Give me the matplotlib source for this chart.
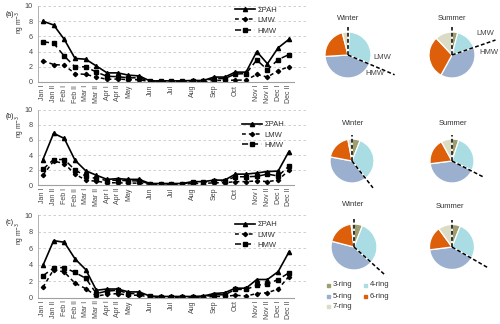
import matplotlib
matplotlib.use("Agg")
import matplotlib.pyplot as plt
import numpy as np

plt.rcParams['font.family'] = ['Liberation Sans', 'DejaVu Sans']

# ---------------- data ----------------
tick_labels = ["Jan I", "Jan II", "Feb I", "Feb II", "Mar I", "Mar II", "Apr I", "Apr II",
               "May", "", "Jun", "", "Jul", "", "Aug", "", "Sep", "", "Oct", "",
               "Nov I", "Nov II", "Dec I", "Dec II"]

sum_a = [8.0, 7.5, 5.6, 3.1, 3.0, 2.1, 1.2, 1.2, 0.9, 0.8, 0.15, 0.15, 0.15, 0.15, 0.2, 0.2,
         0.65, 0.65, 1.3, 1.3, 4.0, 2.4, 4.5, 5.6]
hmw_a = [5.3, 5.1, 3.4, 2.0, 2.0, 1.3, 0.75, 0.7, 0.55, 0.55, 0.1, 0.1, 0.1, 0.1, 0.15, 0.15,
         0.45, 0.45, 1.05, 1.1, 2.9, 1.6, 2.95, 3.6]
lmw_a = [2.8, 2.3, 2.2, 1.1, 1.0, 0.65, 0.35, 0.4, 0.3, 0.3, 0.05, 0.05, 0.05, 0.05, 0.05, 0.05,
         0.2, 0.2, 0.25, 0.25, 1.0, 0.65, 1.5, 2.0]

sum_b = [3.4, 6.9, 6.2, 3.3, 1.9, 1.3, 0.75, 0.85, 0.75, 0.75, 0.2, 0.2, 0.2, 0.2, 0.45, 0.45,
         0.65, 0.65, 1.45, 1.45, 1.6, 1.8, 1.85, 4.45]
hmw_b = [2.1, 3.4, 3.4, 2.0, 1.2, 0.85, 0.6, 0.65, 0.55, 0.55, 0.15, 0.15, 0.15, 0.15, 0.35, 0.35,
         0.55, 0.55, 1.1, 1.1, 1.15, 1.45, 1.2, 2.5]
lmw_b = [1.3, 3.2, 2.85, 1.45, 0.65, 0.5, 0.3, 0.3, 0.25, 0.25, 0.1, 0.1, 0.1, 0.1, 0.2, 0.2,
         0.3, 0.3, 0.45, 0.45, 0.55, 0.45, 0.65, 1.95]

sum_c = [3.9, 6.9, 6.7, 4.7, 3.4, 0.9, 1.05, 1.05, 0.7, 0.7, 0.2, 0.15, 0.15, 0.15, 0.15, 0.2,
         0.5, 0.6, 1.15, 1.15, 2.2, 2.2, 3.15, 5.5]
hmw_c = [2.65, 3.6, 3.65, 3.05, 2.35, 0.5, 0.8, 0.9, 0.5, 0.5, 0.15, 0.1, 0.1, 0.1, 0.1, 0.1,
         0.35, 0.35, 1.0, 1.0, 1.5, 1.65, 2.2, 3.0]
lmw_c = [1.25, 3.4, 3.1, 1.75, 1.1, 0.2, 0.4, 0.5, 0.3, 0.3, 0.08, 0.05, 0.05, 0.05, 0.05, 0.05,
         0.15, 0.15, 0.3, 0.2, 0.5, 0.6, 1.05, 2.55]

ring_labels = ["3-ring", "4-ring", "5-ring", "6-ring", "7-ring"]
ring_colors = ["#9e9e6e", "#a9dde3", "#9bb0cf", "#dd5f0a", "#dcdcc6"]

pie_a_winter = [1, 30, 43, 22, 4]
pie_a_summer = [4, 16, 38, 30, 12]
pie_b_winter = [6, 33, 39, 19, 3]
pie_b_summer = [5, 27, 41, 19, 8]
pie_c_winter = [6, 31, 42, 19, 2]
pie_c_summer = [6, 27, 40, 17, 10]

# ---------------- figure ----------------
W, H = 500, 324
fig = plt.figure(figsize=(W / 100, H / 100), dpi=100)


def px_axes(x0, y_top, x1, y_bot):
    return fig.add_axes([x0 / W, 1 - y_bot / H, (x1 - x0) / W, (y_bot - y_top) / H])


panels = [
    ("(a)", sum_a, lmw_a, hmw_a, 6, 82, 15, (0.72, 1.045)),
    ("(b)", sum_b, lmw_b, hmw_b, 110, 185, 116, (0.745, 0.905)),
    ("(c)", sum_c, lmw_c, hmw_c, 215, 297.7, 223, (0.72, 0.975)),
]

x = np.arange(len(tick_labels))
for lab, s, l, h, ytop, ybot, ylab, legpos in panels:
    ax = px_axes(37.6, ytop, 307, ybot)
    ax.set_xlim(-0.5, 24.7)
    ax.set_ylim(0, 10)
    ax.set_yticks([0, 2, 4, 6, 8, 10])
    ax.yaxis.grid(True, linestyle=(0, (3, 3)), color="#c8c8c8", linewidth=0.6)
    ax.set_axisbelow(True)
    for sp in ["top", "right"]:
        ax.spines[sp].set_visible(False)
    ax.spines["bottom"].set_bounds(-0.5, 23.5)
    ax.spines["bottom"].set_color("#a0a0a0")
    ax.spines["left"].set_color("#b0b0b0")
    ax.spines["left"].set_linewidth(0.7)
    ax.spines["bottom"].set_linewidth(0.8)
    ax.set_xticks(x)
    ax.set_xticklabels(tick_labels, rotation=90, fontsize=5, color="#444444")
    ax.tick_params(axis="both", length=0, pad=2)
    ax.tick_params(axis="y", labelsize=5.2, labelcolor="#444444", pad=3.5)
    ax.plot(x, s, color="black", linewidth=1.2, marker="^", markersize=3, label="\u03a3PAH")
    ax.plot(x, l, color="black", linewidth=1.1, linestyle=(0, (2.5, 2)), marker="D",
            markersize=2.2, label="LMW")
    ax.plot(x, h, color="black", linewidth=1.1, linestyle=(0, (4, 2.5)), marker="s",
            markersize=3.5, label="HMW")
    leg = ax.legend(loc="upper left", bbox_to_anchor=legpos, frameon=False, fontsize=5.5,
                    handlelength=2.6, labelspacing=0.4, handletextpad=0.3, borderpad=0)
    for t in leg.get_texts():
        t.set_color("#333333")
    ax.text(-0.064, 0.78, "ng m$^{-3}$", rotation=90, transform=ax.transAxes,
            ha="center", va="center", fontsize=4.8, color="#333333")
    fig.text(6 / W, 1 - ylab / H, lab, fontsize=5.0, ha="left", va="center", color="#222222")

# ---------------- pies ----------------
pies = [
    (pie_a_winter, 348, 55, 23, 113, 2.2, "Winter", 348, 18, [("LMW", 1.09, -0.09), ("HMW", 0.74, -0.8)]),
    (pie_a_summer, 452, 55, 23, 71, 2.0, "Summer", 452, 18, [("LMW", 1.04, 0.92), ("HMW", 1.17, 0.12)]),
    (pie_b_winter, 352, 161, 22, 142, 1.55, "Winter", 353, 124, []),
    (pie_b_summer, 452, 161, 22, 117, 1.6, "Summer", 453, 124, []),
    (pie_c_winter, 354, 247, 23, 132, 1.85, "Winter", 353, 205, []),
    (pie_c_summer, 452, 247, 22.5, 120, 1.85, "Summer", 450, 207, []),
]

for vals, cx, cy, R, ang, llen, title, tx, ty, labels in pies:
    hw, hh = 2.6, 1.5
    ax = px_axes(cx - hw * R, cy - hh * R, cx + hw * R, cy + hh * R)
    ax.pie(vals, colors=ring_colors, startangle=90, counterclock=False, radius=1,
           wedgeprops=dict(edgecolor="white", linewidth=0.9))
    ax.set_xlim(-hw, hw)
    ax.set_ylim(-hh, hh)
    ax.set_aspect("auto")
    ax.axis("off")
    # dashed separators LMW / HMW
    ax.plot([0, 0], [0, 1.2], color="black", linestyle=(0, (2.5, 1.5)), linewidth=1.1)
    th = np.deg2rad(90 - ang)
    ax.plot([0, llen * np.cos(th)], [0, llen * np.sin(th)], color="black",
            linestyle=(0, (2.5, 1.5)), linewidth=1.1)
    for txt, lx, ly in labels:
        ax.text(lx, ly, txt, fontsize=5.5, color="#444444", ha="left", va="center")
    fig.text(tx / W, 1 - ty / H, title, fontsize=5.5, ha="center", va="center", color="#333333")

# pie legend
leg_items = [(0, 328, 285), (1, 365, 285), (2, 328, 296), (3, 365, 296), (4, 328, 306)]
for i, lx, ly in leg_items:
    fig.patches.append(plt.Rectangle(((lx - 1.5) / W, 1 - (ly + 1.5) / H), 3 / W, 3 / H,
                                     transform=fig.transFigure, color=ring_colors[i]))
    fig.text((lx + 5) / W, 1 - ly / H, ring_labels[i], fontsize=5.5, ha="left", va="center",
             color="#333333")

fig.savefig("out.png", dpi=100)
